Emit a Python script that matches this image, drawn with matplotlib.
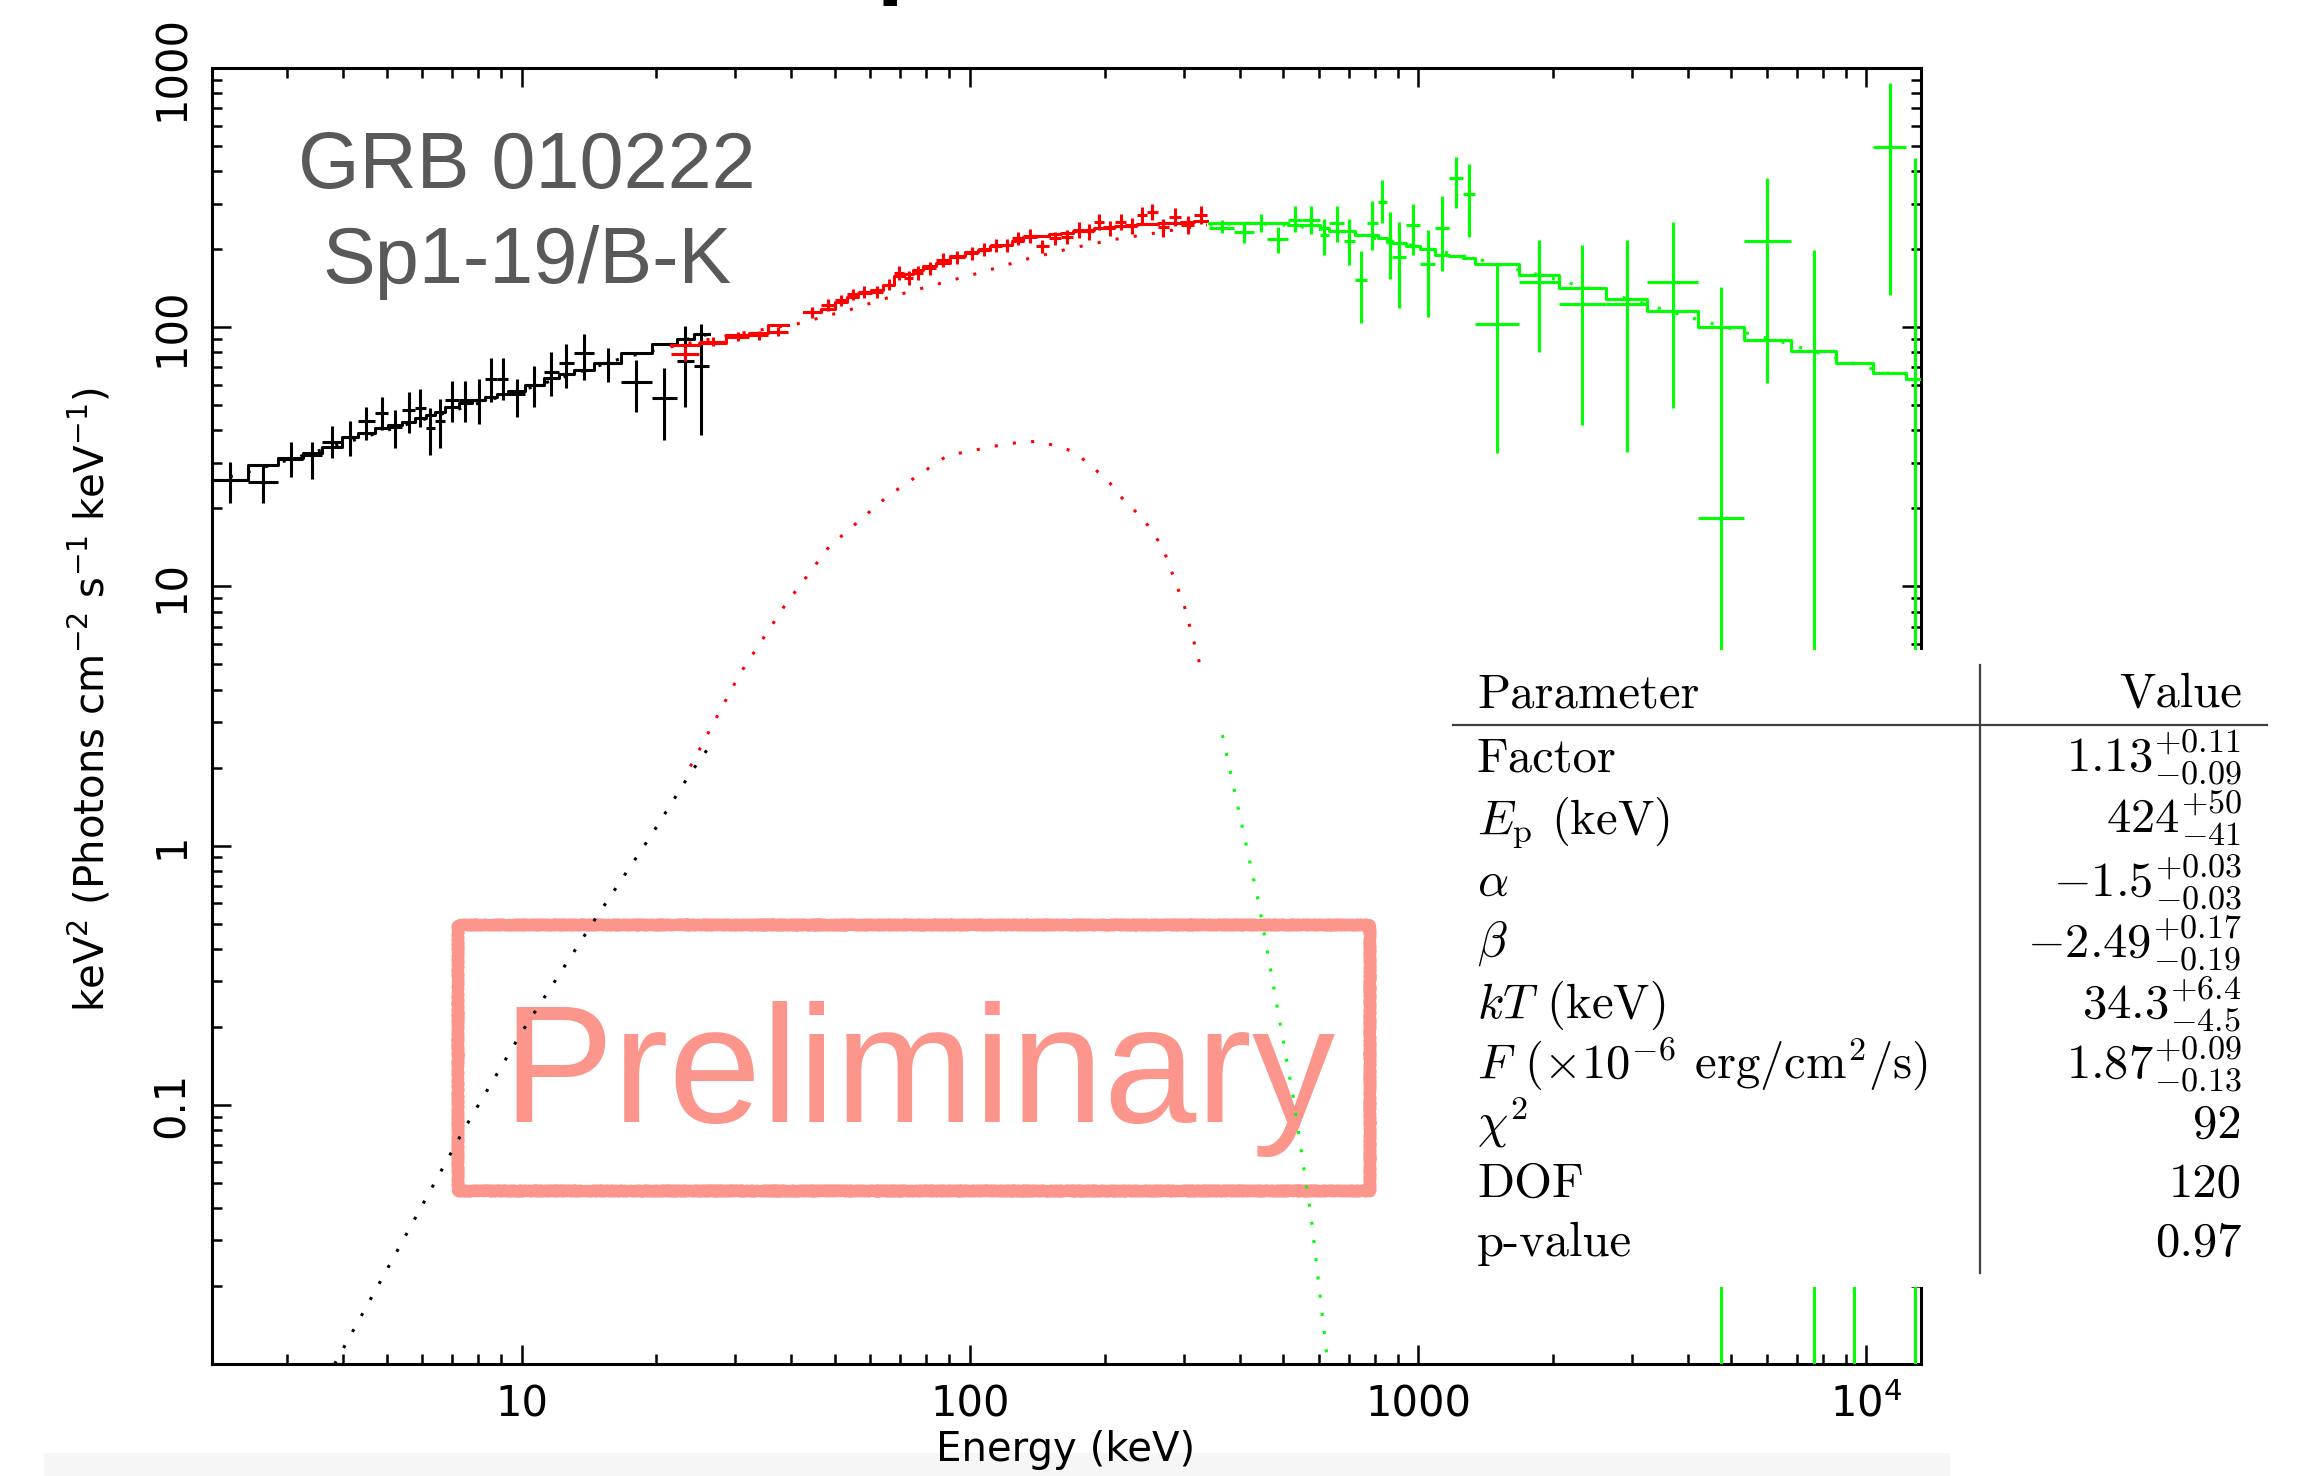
import numpy as np
import matplotlib
matplotlib.use('Agg')
import matplotlib.pyplot as plt
from matplotlib.patches import Rectangle
from matplotlib.lines import Line2D
from matplotlib.ticker import FixedLocator, LogLocator, NullFormatter

# ---- spectral data (E in keV, keV^2 Photons cm^-2 s^-1 keV^-1)
# black detector: contiguous channel edges
black_edges = [2.04, 2.46, 2.86, 3.26, 3.58, 3.98, 4.31, 4.72, 5.05, 5.42, 5.78, 6.12, 6.40,
               6.75, 7.25, 7.75, 8.30, 8.80, 9.35, 10.2, 11.2, 12.1, 13.1, 14.5, 16.7, 19.5,
               22.2, 24.2, 26.2]
black_flux = [25.7, 25.3, 30.9, 32.1, 36.1, 37.6, 43.6, 46.5, 41.3, 47.9, 48.6, 40.7, 43.6,
              52.4, 52.4, 52.4, 63.1, 63.1, 55.1, 59.8, 67.3, 72.6, 79.8, 72.6, 61.6, 53.5,
              74.1, 70.8]
black_flux_lo = [21.0, 21.0, 26.5, 25.9, 31.2, 31.8, 36.7, 40.1, 34.3, 39.2, 41.3, 32.1, 34.3,
                 43.2, 43.2, 42.2, 51.6, 52.4, 45.2, 49.3, 54.3, 58.1, 62.5, 61.2, 47.2, 36.7,
                 49.3, 38.4]
black_flux_hi = [30.1, 29.2, 36.1, 36.1, 41.6, 43.6, 49.1, 54.0, 47.9, 56.4, 57.5, 48.6, 52.7,
                 62.0, 62.0, 63.1, 76.2, 76.2, 63.1, 71.0, 80.0, 86.5, 94.2, 83.4, 74.6, 69.3,
                 101, 103]
black_model = [25.7, 29.4, 31.2, 32.6, 34.6, 37.8, 38.9, 40.7, 42.0, 43.2, 44.5, 45.8, 47.2,
               49.3, 50.8, 52.4, 54.0, 55.2, 56.9, 59.8, 63.5, 66.0, 68.4, 72.6, 79.8, 85.9,
               89.8, 93.8]

# red detector (gap between 39.4 and 42.7 keV)
red_lo = [21.5, 24.9, 28.6, 32.2, 35.5, 42.7, 46.5, 50.1, 53.3, 56.4, 60.1, 64.0, 67.8, 71.4,
          74.8, 78.8, 83.9, 90.3, 97.4, 104.5, 111, 117.5, 124.5, 131.5, 140.5, 150, 159.5,
          170, 180, 189.5, 199.5, 211, 223.5, 236, 248.5, 262.5, 278, 296, 316.5]
red_hi = [24.9, 28.6, 32.2, 35.5, 39.4, 46.5, 50.1, 53.3, 56.4, 60.1, 64.0, 67.8, 71.4, 74.8,
          78.8, 83.9, 90.3, 97.4, 104.5, 111, 117.5, 124.5, 131.5, 140.5, 150, 159.5, 170,
          180, 189.5, 199.5, 211, 223.5, 236, 248.5, 262.5, 278, 296, 316.5, 338]
red_flux = [79, 87.9, 91.9, 93.3, 96.1, 114, 122, 127, 134, 137, 137, 146, 162, 155, 162, 169,
            182, 186, 193, 200, 207, 207, 220, 225, 205, 220, 223, 237, 234, 255, 241, 255,
            246, 271, 279, 243, 267, 248, 271]
red_err = [0.06, 0.04, 0.04, 0.04, 0.04, 0.05, 0.05, 0.05, 0.05, 0.05, 0.05, 0.05, 0.06, 0.06,
           0.06, 0.06, 0.06, 0.06, 0.06, 0.06, 0.06, 0.06, 0.06, 0.06, 0.06, 0.06, 0.06, 0.07,
           0.07, 0.07, 0.07, 0.07, 0.07, 0.07, 0.07, 0.08, 0.08, 0.08, 0.08]
red_model = [85, 87.1, 93.2, 95.2, 102, 114, 118, 125, 131, 136, 139, 146, 157, 160, 166, 172,
             177, 188, 195, 199, 205, 208, 215, 222, 225, 228, 230, 235, 237, 241, 243, 246,
             248, 250, 251, 252, 253, 255, 256]

# green detector
green_edges = [342, 389, 431, 461, 512, 551, 603, 633, 684, 722, 769, 813, 853, 875, 942, 1009,
               1092, 1169, 1259, 1340, 1679, 2057, 2630, 3245, 4220, 5320, 6800, 8550, 10330,
               12270, 13400]
green_flux = [242, 232, 253, 219, 259, 259, 227, 253, 216, 152, 253, 305, 217, 187, 248, 175,
              242, 375, 326, 103, 149, 123, 123, 149, 18.4, 215, 3.0, 2.0, 497, 3.0]
green_flux_lo = [230, 212, 233, 194, 233, 228, 190, 214, 174, 104, 199, 252, 153, 119, 190, 109,
                 165, 289, 223, 32.6, 80.5, 42, 33, 49, 0.001, 60.7, 0.001, 0.001, 133, 0.001]
green_flux_hi = [259, 251, 274, 244, 294, 294, 261, 294, 261, 197, 307, 370, 279, 255, 300, 237,
                 321, 455, 425, 174, 217, 207, 217, 255, 143, 378, 199, 4.0, 873, 448]
green_model = [253, 253, 253, 253, 248, 248, 241, 235, 235, 227, 227, 220, 214, 211, 206, 200,
               190, 188, 185, 175, 159, 142, 129, 115, 100, 89.3, 80.9, 72.6, 66.4, 63]

# model components (dotted): Band function and blackbody
black_band_e = [2.04, 2.4, 5.0, 10.0, 17.0, 19.9, 22.6, 26.2]
black_band_f = [25.5, 27.3, 40, 57, 76.5, 81.6, 88.7, 94]
red_band_e = [21.5, 30, 41.2, 54.2, 66.7, 83.8, 105, 132, 167, 210, 264, 324, 338]
red_band_f = [84, 94, 103, 117, 131, 146, 162, 182, 201, 218, 232, 246, 248]
green_band_e = [342, 420, 520, 700, 1000, 1361, 1919, 3025, 3966, 5260, 6640, 8180, 10860, 13400]
green_band_f = [248, 252, 247, 230, 205, 183, 157, 127, 110, 96.2, 86.7, 77.7, 67.3, 62]

black_bb_e = [3.83, 5.0, 7.43, 10.0, 14.8, 19.5, 23.8, 26.2]
black_bb_f = [0.01, 0.023, 0.08, 0.19, 0.54, 1.1, 1.9, 2.4]
red_bb_e = [23.8, 30.7, 38.6, 48.5, 65.8, 89.2, 118, 133, 144, 171, 203, 217, 245, 269, 301, 325]
red_bb_f = [2.02, 4.6, 8.4, 14.2, 22.4, 32.0, 35.2, 36.2, 36.2, 33.1, 25.7, 22.2, 18.0, 14.2,
            8.4, 5.1]
green_bb_e = [366, 441, 528, 577, 629, 680]
green_bb_f = [2.67, 0.60, 0.104, 0.037, 0.01, 0.002]

# fit results table
param_names = ['Factor', r'$E_{\rm p}$ (keV)', r'$\alpha$', r'$\beta$', r'$kT$ (keV)',
               r'$F$ ($\times10^{-6}$ erg/cm$^2$/s)', r'$\chi^2$', 'DOF', 'p-value']
param_values = [r'$1.13^{+0.11}_{-0.09}$', r'$424^{+50}_{-41}$', r'$-1.5^{+0.03}_{-0.03}$',
                r'$-2.49^{+0.17}_{-0.19}$', r'$34.3^{+6.4}_{-4.5}$', r'$1.87^{+0.09}_{-0.13}$',
                '92', '120', '0.97']

W, H = 2320, 1476
def fx(px):
    return px / W
def fy(py):
    return 1 - py / H

plt.rcParams['font.family'] = ['Liberation Sans Narrow', 'DejaVu Sans']
plt.rcParams['mathtext.fontset'] = 'custom'
plt.rcParams['mathtext.rm'] = 'Liberation Sans Narrow'
plt.rcParams['mathtext.it'] = 'Liberation Sans Narrow:italic'
plt.rcParams['mathtext.bf'] = 'Liberation Sans Narrow:bold'

fig = plt.figure(figsize=(W / 100, H / 100), dpi=100)
ax = fig.add_axes([fx(212), fy(1364), fx(1920.5) - fx(212), fy(68) - fy(1364)])


def steps(lo, hi, vals):
    xs, ys = [], []
    for i in range(len(vals)):
        if i > 0 and not np.isclose(lo[i], hi[i - 1]):
            xs.append(np.nan)
            ys.append(np.nan)
        xs += [lo[i], hi[i]]
        ys += [vals[i], vals[i]]
    return xs, ys


def crosses(lo, hi, f, flo, fhi, color):
    lo, hi = np.asarray(lo, float), np.asarray(hi, float)
    f, flo, fhi = np.asarray(f, float), np.asarray(flo, float), np.asarray(fhi, float)
    e = np.sqrt(lo * hi)
    ax.errorbar(e, f, xerr=[e - lo, hi - e], yerr=[f - flo, fhi - f], fmt='none',
                ecolor=color, elinewidth=2.2, capsize=0, zorder=3)


dots = (0, (1, 5))

# black
crosses(black_edges[:-1], black_edges[1:], black_flux, black_flux_lo, black_flux_hi, 'black')
xs, ys = steps(black_edges[:-1], black_edges[1:], black_model)
ax.plot(xs, ys, color='black', lw=2.2, zorder=3)
ax.plot(black_band_e, black_band_f, color='black', lw=2.2, ls=dots, zorder=3)
ax.plot(black_bb_e, black_bb_f, color='black', lw=2.2, ls=dots, zorder=3)

# red
red_f = np.array(red_flux)
red_e = np.array(red_err)
crosses(red_lo, red_hi, red_f, red_f * (1 - red_e), red_f * (1 + red_e), 'red')
xs, ys = steps(red_lo, red_hi, red_model)
ax.plot(xs, ys, color='red', lw=2.2, zorder=3)
ax.plot(red_band_e, red_band_f, color='red', lw=2.2, ls=dots, zorder=3)
ax.plot(red_bb_e, red_bb_f, color='red', lw=2.2, ls=dots, zorder=3)

# green
crosses(green_edges[:-1], green_edges[1:], green_flux, green_flux_lo, green_flux_hi, '#00ff00')
xs, ys = steps(green_edges[:-1], green_edges[1:], green_model)
ax.plot(xs, ys, color='#00ff00', lw=2.2, zorder=3)
ax.plot(green_band_e, green_band_f, color='#00ff00', lw=2.2, ls=dots, zorder=3)
ax.plot(green_bb_e, green_bb_f, color='#00ff00', lw=2.2, ls=dots, zorder=3)

ax.set_xscale('log')
ax.set_yscale('log')
ax.set_xlim(2.04, 13200)
ax.set_ylim(0.01, 1000)

ax.xaxis.set_major_locator(FixedLocator([10, 100, 1000, 10000]))
ax.set_xticklabels(['10', '100', '1000', r'$10^4$'])
ax.xaxis.set_minor_locator(LogLocator(base=10, subs=range(2, 10), numticks=50))
ax.xaxis.set_minor_formatter(NullFormatter())
ax.yaxis.set_major_locator(FixedLocator([0.01, 0.1, 1, 10, 100, 1000]))
ax.set_yticklabels(['', '0.1', '1', '10', '100', '1000'], rotation=90, va='center')
ax.yaxis.set_minor_locator(LogLocator(base=10, subs=range(2, 10), numticks=50))
ax.yaxis.set_minor_formatter(NullFormatter())

ax.tick_params(which='both', direction='in', top=True, right=True, width=1.8)
ax.tick_params(which='major', length=14)
ax.tick_params(which='minor', length=7)
ax.tick_params(axis='x', pad=14, labelsize=30)
ax.tick_params(axis='y', pad=14, labelsize=30)
for s in ax.spines.values():
    s.set_linewidth(2.2)

# watermark (behind the data)
salmon = '#fc968c'
ax.text(fx(919), fy(1122), 'Preliminary', transform=fig.transFigure, ha='center',
        va='baseline', fontsize=120, color=salmon, family='Liberation Sans', zorder=1)
box = Rectangle((fx(458), fy(1191)), fx(1370) - fx(458), fy(925) - fy(1191),
                transform=fig.transFigure, fill=False, ec=salmon, lw=8.5, zorder=1,
                joinstyle='round', capstyle='round')
box.set_sketch_params(0.8, 4, 2)
ax.add_patch(box)

# labels
fig.text(fx(527), fy(188), 'GRB 010222', ha='center', va='baseline', fontsize=57,
         color='#595959', family='Liberation Sans')
fig.text(fx(527), fy(283), 'Sp1-19/B-K', ha='center', va='baseline', fontsize=57,
         color='#595959', family='Liberation Sans')
fig.text(fx(90), fy(700), r'keV$^2$ (Photons cm$^{-2}$ s$^{-1}$ keV$^{-1}$)', rotation=90,
         ha='center', va='center', fontsize=29)
fig.text(fx(1066), fy(1461), 'Energy (keV)', ha='center', va='baseline', fontsize=29, zorder=4)
fig.add_artist(Rectangle((fx(44), 0), fx(1950) - fx(44), 23 / H, transform=fig.transFigure,
                         fc='#f6f6f6', ec='none', zorder=-1))
# cut-off slide title above the figure
fig.text(fx(873), fy(-26), 'p', ha='left', va='baseline', fontsize=112, color='black',
         family='Liberation Sans')

# fit-result table pasted over the lower right
fig.add_artist(Rectangle((fx(1445), fy(1287)), 1 - fx(1445), fy(650) - fy(1287),
                         transform=fig.transFigure, fc='white', ec='none', zorder=5))
fig.add_artist(Line2D([fx(1453), fx(2267)], [fy(725), fy(725)], transform=fig.transFigure,
                      color='#404040', lw=1.6, zorder=6))
fig.add_artist(Line2D([fx(1980), fx(1980)], [fy(665), fy(1273)], transform=fig.transFigure,
                      color='#404040', lw=1.6, zorder=6))
tab = dict(family='cmr10', math_fontfamily='cm', fontsize=35, zorder=7, va='baseline')
fig.text(fx(1477), fy(707), 'Parameter', ha='left', **tab)
fig.text(fx(2242), fy(707), 'Value', ha='right', **tab)
row_base = [771, 834, 896, 957, 1018, 1078, 1138, 1197, 1256]
for name, val, yb in zip(param_names, param_values, row_base):
    fig.text(fx(1477), fy(yb), name, ha='left', **tab)
    fig.text(fx(2242), fy(yb), val, ha='right', **tab)

fig.savefig('out.png', dpi=100)
